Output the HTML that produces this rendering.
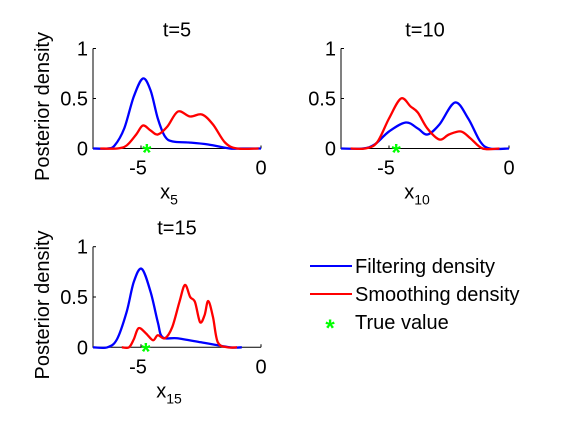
<!DOCTYPE html>
<html><head><meta charset="utf-8"><style>
body{margin:0;background:#fff;}
svg text{font-family:"Liberation Sans",sans-serif;fill:#000;}
</style></head><body>
<svg id="fig" width="561" height="420" viewBox="0 0 561 420" xmlns="http://www.w3.org/2000/svg"></svg>
<script>
// x, y pairs for each series
const filt5X=[-7,-6.4,-6.1,-5.7,-5.3,-4.92,-4.6,-4.3,-4.0,-3.67,-3.0,-2.2,-1.3,-0.9,0];
const filt5Y=[0,0,0.03,0.2,0.52,0.7,0.58,0.3,0.12,0.07,0.06,0.04,0.0,0,0];
const smooth5X=[-6.7,-6.0,-5.6,-5.2,-4.92,-4.6,-4.3,-3.9,-3.46,-2.96,-2.46,-2.0,-1.5,-1.0,-0.1];
const smooth5Y=[0,0,0.03,0.14,0.23,0.18,0.14,0.22,0.37,0.32,0.34,0.24,0.06,0,0];
const filt10X=[-7,-6.1,-5.6,-5.0,-4.3,-3.8,-3.4,-2.9,-2.25,-1.7,-1.2,-0.8,0];
const filt10Y=[0,0,0.04,0.17,0.26,0.2,0.14,0.24,0.46,0.3,0.07,0,0];
const smooth10X=[-6.6,-6.0,-5.5,-5.0,-4.5,-4.1,-3.8,-3.4,-2.9,-2.5,-2.0,-1.6,-1.1,-0.4];
const smooth10Y=[0,0,0.06,0.3,0.5,0.42,0.36,0.2,0.09,0.14,0.17,0.1,0,0];
const filt15X=[-7,-6.4,-6.0,-5.6,-5.3,-4.97,-4.6,-4.3,-4.1,-3.5,-2.5,-1.3,-0.8];
const filt15Y=[0,0,0.08,0.35,0.65,0.78,0.55,0.25,0.1,0.09,0.05,0,0];
const smooth15X=[-5.8,-5.5,-5.3,-5.1,-4.8,-4.5,-4.3,-4.0,-3.7,-3.4,-3.17,-2.95,-2.75,-2.54,-2.35,-2.2,-2.0,-1.8,-1.4,-1.0];
const smooth15Y=[0,0,0.08,0.19,0.14,0.07,0.12,0.09,0.2,0.45,0.62,0.5,0.45,0.25,0.32,0.46,0.3,0.05,0,0];
const trueX=[-4.76,-4.7,-4.8];
const xTicks=[-5,0];
const yTicks=[0,0.5,1];
const yTickLabels=["0","0.5","1"];
const titles=["t=5","t=10","t=15"];
const xSubs=["5","10","15"];
const legendLabels=["Filtering density","Smoothing density","True value"];

const NS="http://www.w3.org/2000/svg";
const svg=document.getElementById('fig');
function mk(tag,attrs,parent){const e=document.createElementNS(NS,tag);for(const k in attrs)e.setAttribute(k,attrs[k]);(parent||svg).appendChild(e);return e;}
const panels=[
 {l:93,r:261,t:48.5,b:148.5,fx:filt5X,fy:filt5Y,sx:smooth5X,sy:smooth5Y,ylab:true},
 {l:341,r:509,t:48.5,b:148.5,fx:filt10X,fy:filt10Y,sx:smooth10X,sy:smooth10Y,ylab:false},
 {l:93,r:261,t:246.7,b:347.3,fx:filt15X,fy:filt15Y,sx:smooth15X,sy:smooth15Y,ylab:true}
];
function pathFrom(xs,ys,X,Y){
  const p=xs.map((x,i)=>[X(x),Y(ys[i])]);
  let d='M'+p[0][0]+','+p[0][1];
  for(let i=0;i<p.length-1;i++){
    const p0=p[Math.max(0,i-1)],p1=p[i],p2=p[i+1],p3=p[Math.min(p.length-1,i+2)];
    const c1=[p1[0]+(p2[0]-p0[0])/6,p1[1]+(p2[1]-p0[1])/6];
    const c2=[p2[0]-(p3[0]-p1[0])/6,p2[1]-(p3[1]-p1[1])/6];
    d+=' C'+c1[0]+','+c1[1]+' '+c2[0]+','+c2[1]+' '+p2[0]+','+p2[1];
  }
  return d;
}
panels.forEach((P,i)=>{
  const g=mk('g',{});
  
  
  const X=x=>P.l+(x+7)/7*(P.r-P.l);
  const Y=y=>P.b-y*(P.b-P.t);
  const ax=mk('path',{d:`M${P.l},${P.t} V${P.b} H${P.r}`,fill:'none',stroke:'#000','stroke-width':1},g);
  
  
  yTicks.forEach((v,k)=>{
    const t=mk('text',{x:P.l-5,y:Y(v)+7,'font-size':20,'text-anchor':'end'},g);t.textContent=yTickLabels[k];
    
    
    mk('line',{x1:P.l,x2:P.l+3,y1:Y(v),y2:Y(v),stroke:'#000'},g);
  });
  xTicks.forEach(v=>{
    const t=mk('text',{x:X(v)-(v<0?3:0),y:P.b+26,'font-size':20,'text-anchor':'middle'},g);t.textContent=String(v);
    
    
    mk('line',{x1:X(v),x2:X(v),y1:P.b,y2:P.b-3,stroke:'#000'},g);
  });
  const tt=mk('text',{x:(P.l+P.r)/2,y:P.t-12,'font-size':20,'text-anchor':'middle'},g);tt.textContent=titles[i];
  
  
  const xl=mk('text',{x:(P.l+P.r)/2-8,y:P.b+50,'font-size':20,'text-anchor':'middle'},g);
  xl.textContent='x';
  const ts=mk('tspan',{'font-size':14,dy:6},xl);ts.textContent=xSubs[i];
  
  
  if(P.ylab){
    const yl=mk('text',{x:0,y:0,'font-size':20,'text-anchor':'middle',transform:`translate(49,${(P.t+P.b)/2+8}) rotate(-90)`},g);
    yl.textContent='Posterior density';
    
    
  }
  const fb=mk('path',{d:pathFrom(P.fx,P.fy,X,Y),fill:'none',stroke:'#0000ff','stroke-width':2.3},g);
  
  
  const sr=mk('path',{d:pathFrom(P.sx,P.sy,X,Y),fill:'none',stroke:'#ff0000','stroke-width':2.3},g);
  
  
  const st=mk('text',{x:X(trueX[i]),y:P.b+12,'font-size':24,'text-anchor':'middle',style:'fill:#00ff00;font-weight:bold'},g);
  st.textContent='*';
  
  
});
const lg=mk('g',{});


const ly=[266,294,322];
['#0000ff','#ff0000'].forEach((c,k)=>{
  const l=mk('line',{x1:310,x2:352,y1:ly[k],y2:ly[k],stroke:c,'stroke-width':2},lg);
  
  
});
const ls=mk('text',{x:330,y:336,'font-size':24,'text-anchor':'middle',style:'fill:#00ff00;font-weight:bold'},lg);
ls.textContent='*';


legendLabels.forEach((t,k)=>{
  const e=mk('text',{x:355,y:ly[k]+7,'font-size':20},lg);e.textContent=t;
  
  
});
</script>
</body></html>
